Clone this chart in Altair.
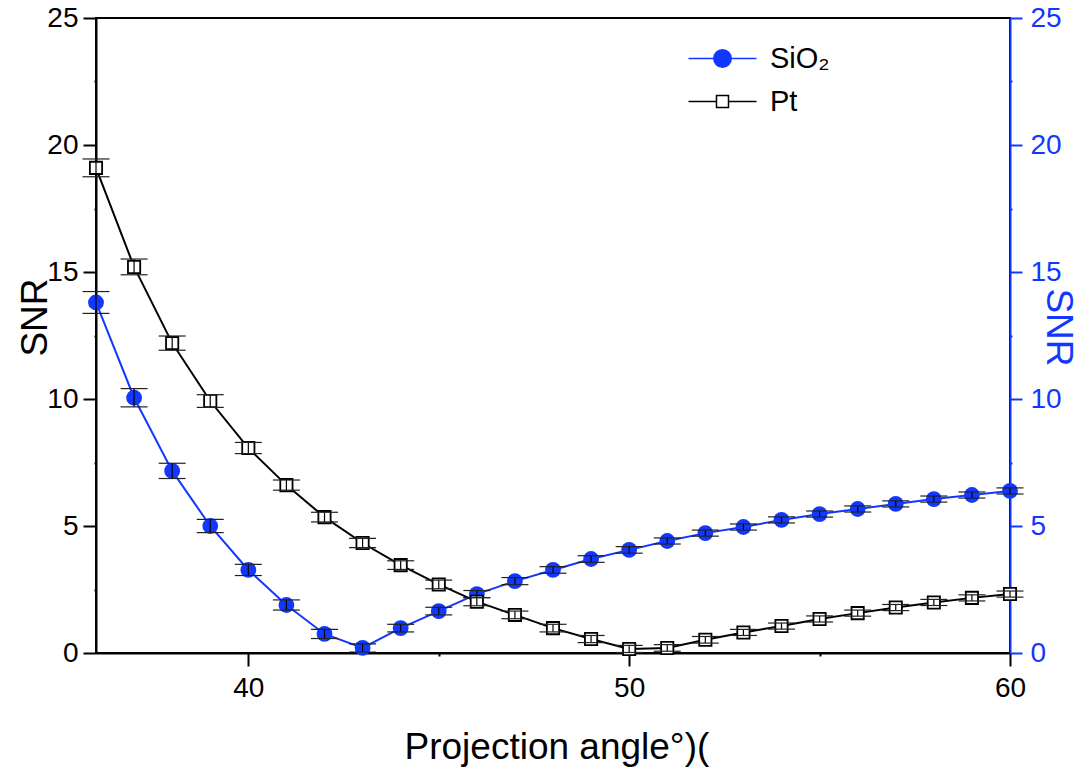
import altair as alt
import pandas as pd

angles = list(range(36, 61))
sio2_snr = [13.80, 10.05, 7.17, 5.00, 3.27, 1.89, 0.75, 0.20, 0.98, 1.65, 2.32, 2.83, 3.27,
            3.70, 4.06, 4.41, 4.72, 4.96, 5.24, 5.47, 5.67, 5.87, 6.06, 6.22, 6.38]
pt_snr = [19.10, 15.20, 12.20, 9.92, 8.07, 6.61, 5.35, 4.33, 3.46, 2.70, 2.02, 1.50, 0.98,
          0.55, 0.16, 0.20, 0.52, 0.81, 1.06, 1.34, 1.57, 1.79, 1.99, 2.17, 2.32]
sio2_err = [0.43, 0.36, 0.30, 0.26, 0.22, 0.20, 0.18, 0.16, 0.15, 0.15, 0.14, 0.14, 0.13,
            0.13, 0.13, 0.12, 0.12, 0.12, 0.12, 0.12, 0.12, 0.12, 0.12, 0.12, 0.12]
pt_err = [0.35, 0.31, 0.28, 0.25, 0.22, 0.20, 0.19, 0.18, 0.17, 0.17, 0.16, 0.15, 0.15,
          0.14, 0.14, 0.13, 0.13, 0.12, 0.12, 0.12, 0.12, 0.12, 0.12, 0.12, 0.12]
series_names = ["SiO₂", "Pt"]
x_ticks = [40, 45, 50, 55, 60]
y_ticks = [0, 2.5, 5, 7.5, 10, 12.5, 15, 17.5, 20, 22.5, 25]

BLUE = "#1238ff"
FONT = "Liberation Sans"

rows = []
for name, vals, errs in [(series_names[0], sio2_snr, sio2_err), (series_names[1], pt_snr, pt_err)]:
    for a, v, e in zip(angles, vals, errs):
        rows.append({"angle": a, "snr": v, "lo": v - e, "hi": v + e, "series": name})
df = pd.DataFrame(rows)

x_axis = alt.Axis(
    title="Projection angle°)(", values=x_ticks,
    labelExpr="datum.value % 10 == 0 ? datum.label : ''",
    tickSize={"condition": {"test": "datum.value % 10 != 0", "value": 3}, "value": 13},
    tickWidth=2, tickColor="black", domainColor="black", domainWidth=2,
    labelColor="black", labelFont=FONT, labelFontSize=28, labelPadding=8,
    labelFlush=False, labelOverlap=False, grid=False,
    titleFont=FONT, titleFontSize=37, titleFontWeight="normal", titleColor="black",
    titleX=308, titleY=105, titleAlign="left", titleBaseline="alphabetic",
)
left_axis = alt.Axis(
    title="SNR", values=y_ticks,
    labelExpr="datum.value % 5 == 0 ? datum.label : ''",
    tickSize={"condition": {"test": "datum.value % 5 != 0", "value": 2}, "value": 13},
    tickWidth=2, tickColor="black", domainColor="black", domainWidth=2,
    labelColor="black", labelFont=FONT, labelFontSize=28, labelPadding=5,
    labelFlush=False, labelOverlap=False, grid=False,
    titleFont=FONT, titleFontSize=37, titleFontWeight="normal", titleColor="black",
    titleX=-61, titleY=299, titleAngle=270, titleAlign="center", titleBaseline="middle",
)
right_axis = alt.Axis(
    title="SNR", orient="right", values=y_ticks,
    labelExpr="datum.value % 5 == 0 ? datum.label : ''",
    tickSize={"condition": {"test": "datum.value % 5 != 0", "value": 2}, "value": 12},
    tickWidth=2, tickColor=BLUE, domainColor=BLUE, domainWidth=2,
    labelColor=BLUE, labelFont=FONT, labelFontSize=28, labelPadding=8,
    labelFlush=False, labelOverlap=False, grid=False,
    titleFont=FONT, titleFontSize=37, titleFontWeight="normal", titleColor=BLUE,
    titleX=47, titleY=309, titleAngle=90, titleAlign="center", titleBaseline="middle",
)

xs = alt.Scale(domain=[36, 60], nice=False, zero=False)
ys = alt.Scale(domain=[0, 25], nice=False, zero=False)
X = alt.X("angle:Q", scale=xs, axis=x_axis)
Y = alt.Y("snr:Q", scale=ys, axis=left_axis)

base = alt.Chart(df)
s_only = "datum.series == 'SiO₂'"
p_only = "datum.series == 'Pt'"

line_s = base.transform_filter(s_only).mark_line(color=BLUE, strokeWidth=2).encode(x=X, y=Y)
line_p = base.transform_filter(p_only).mark_line(color="black", strokeWidth=2).encode(x=X, y=Y)
pts_s = base.transform_filter(s_only).mark_point(
    shape="circle", filled=True, size=250, color=BLUE, opacity=1).encode(x=X, y=Y)
pts_p = base.transform_filter(p_only).mark_point(
    shape="square", filled=True, size=150, fill="white", stroke="black",
    strokeWidth=1.8, opacity=1).encode(x=X, y=Y)

err_rule = base.mark_rule(color="black", strokeWidth=1.2).encode(
    x=X, y=alt.Y("lo:Q", scale=ys, axis=left_axis), y2="hi:Q")
cap_lo = base.mark_tick(orient="horizontal", size=27, thickness=1.2, color="#222222", opacity=1).encode(
    x=X, y=alt.Y("lo:Q", scale=ys, axis=left_axis))
cap_hi = base.mark_tick(orient="horizontal", size=27, thickness=1.2, color="#222222", opacity=1).encode(
    x=X, y=alt.Y("hi:Q", scale=ys, axis=left_axis))

circle_sym = "M-3.4,0L-0.87,0M0.87,0L3.4,0M-0.87,0A0.87,0.87,0,1,1,0.87,0A0.87,0.87,0,1,1,-0.87,0Z"
square_sym = "M-3.4,0L-0.6,0M0.6,0L3.4,0M-0.6,-0.6L0.6,-0.6L0.6,0.6L-0.6,0.6Z"
legend = alt.Legend(
    title=None, orient="none", legendX=612, legendY=26, padding=0,
    labelFont=FONT, labelFontSize=29, labelColor="black", labelOffset=33,
    rowPadding=13, symbolStrokeWidth=1.5, symbolSize=400,
)
legend_layer = base.transform_filter("datum.angle < 0").mark_point(
    filled=True, size=400, strokeWidth=1.5, opacity=1).encode(
    x=X, y=Y,
    fill=alt.Fill("series:N", scale=alt.Scale(domain=series_names, range=[BLUE, "white"]),
                  legend=legend, sort=series_names),
    stroke=alt.Stroke("series:N", scale=alt.Scale(domain=series_names, range=[BLUE, "black"]),
                      legend=legend, sort=series_names),
    shape=alt.Shape("series:N", scale=alt.Scale(domain=series_names, range=[circle_sym, square_sym]),
                    legend=legend, sort=series_names),
)

main = alt.layer(line_s, line_p, pts_s, pts_p, err_rule, cap_lo, cap_hi, legend_layer)
right_layer = base.mark_point(opacity=0).encode(
    x=X, y=alt.Y("snr:Q", scale=ys, axis=right_axis))

chart = alt.layer(main, right_layer).resolve_scale(y="independent").properties(
    width=914, height=635,
    autosize=alt.AutoSizeParams(type="none"),
    padding={"left": 96, "top": 18, "right": 81, "bottom": 120},
    background="white",
).configure_view(stroke="black", strokeWidth=2)

chart.save("out.html", embed_options={"renderer": "svg", "actions": False})
